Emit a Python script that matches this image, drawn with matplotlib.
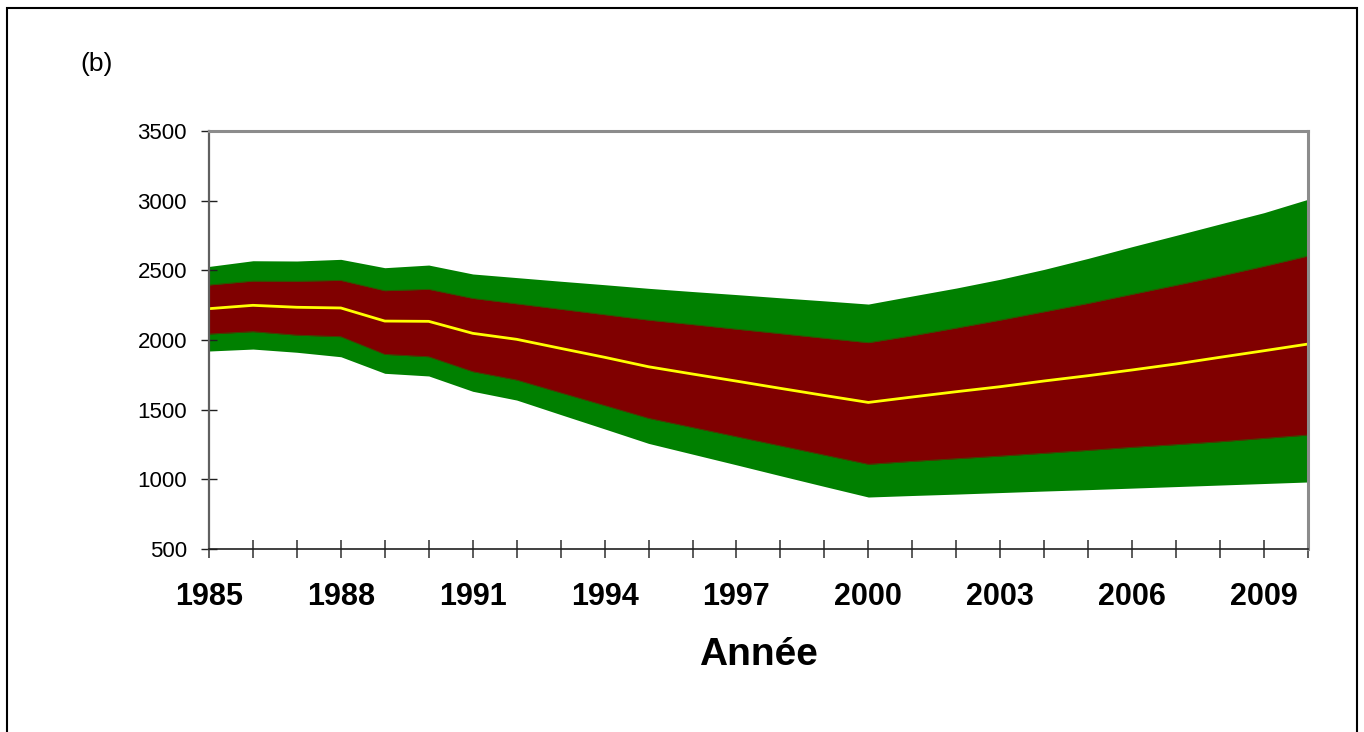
import matplotlib
matplotlib.use("Agg")
import matplotlib.pyplot as plt
from matplotlib.patches import Rectangle

plt.rcParams['font.family'] = ['Liberation Sans', 'DejaVu Sans']

# Yearly series, 1985-2010
years = list(range(1985, 2011))
outer_hi = [2528, 2569, 2567, 2579, 2519, 2538, 2474, 2448, 2422, 2397, 2371, 2348, 2326,
            2303, 2281, 2258, 2316, 2373, 2436, 2507, 2586, 2670, 2751, 2833, 2914, 3010]
inner_hi = [2395, 2423, 2422, 2428, 2354, 2364, 2299, 2260, 2221, 2182, 2143, 2111, 2078,
            2046, 2013, 1981, 2031, 2086, 2143, 2203, 2263, 2328, 2393, 2459, 2529, 2603]
median = [2225, 2249, 2235, 2230, 2136, 2134, 2048, 2005, 1940, 1876, 1808, 1756, 1705,
          1653, 1602, 1552, 1591, 1629, 1665, 1706, 1744, 1785, 1828, 1876, 1923, 1971]
inner_lo = [2043, 2060, 2035, 2024, 1897, 1880, 1773, 1713, 1621, 1530, 1438, 1372, 1306,
            1240, 1174, 1108, 1129, 1148, 1167, 1187, 1208, 1230, 1249, 1270, 1294, 1318]
outer_lo = [1921, 1935, 1912, 1880, 1761, 1742, 1632, 1569, 1465, 1362, 1258, 1181, 1104,
            1026, 949, 873, 884, 894, 905, 916, 926, 937, 948, 959, 970, 981]

label_years = list(range(1985, 2011, 3))
y_ticks = [500, 1000, 1500, 2000, 2500, 3000, 3500]

fig = plt.figure(figsize=(13.64, 7.32), dpi=100)
ax = fig.add_axes([0.1532, 0.25, 0.8057, 0.5710])

# bands
ax.fill_between(years, outer_lo, outer_hi, color='#008000', linewidth=0, zorder=1)
ax.fill_between(years, inner_lo, inner_hi, color='#800000', linewidth=0, zorder=2)
ax.plot(years, inner_hi, color='#3a4a00', lw=0.6, zorder=2.2)
ax.plot(years, inner_lo, color='#3a4a00', lw=0.6, zorder=2.2)
ax.plot(years, median, color='#FFFF00', lw=2, zorder=3)

ax.set_xlim(1985, 2010)
ax.set_ylim(500, 3500)

ax.set_xticks(years, minor=True)
ax.set_xticks(label_years)
ax.set_xticklabels([str(y) for y in label_years], fontsize=22, fontweight='bold')
ax.set_yticks(y_ticks)
ax.set_yticklabels([str(v) for v in y_ticks], fontsize=16)

ax.tick_params(axis='y', direction='inout', length=11.5, width=1, color='#202020', pad=10)
ax.tick_params(axis='x', which='both', direction='inout', length=13.5, width=1.2,
               color='#404040', pad=17)

for side in ['top', 'right']:
    ax.spines[side].set_color('#8c8c8c')
    ax.spines[side].set_linewidth(2.2)
ax.spines['left'].set_color('#606060')
ax.spines['left'].set_linewidth(1.6)
ax.spines['bottom'].set_color('#202020')
ax.spines['bottom'].set_linewidth(1.2)
for s in ax.spines.values():
    s.set_zorder(4)

ax.set_xlabel('Année', fontsize=28, fontweight='bold')
ax.xaxis.set_label_coords(0.5, -0.21)
ax.xaxis.label.set_va('top')

fig.text(0.0587, 0.9126, '(b)', fontsize=19, ha='left', va='center')

# outer frame
fig.patches.append(Rectangle((7 / 1364, -0.1), 1350 / 1364, 1.1 - 8 / 732,
                             transform=fig.transFigure, fill=False,
                             edgecolor='black', linewidth=1.5))

fig.savefig('out.png', dpi=100, facecolor='white')
